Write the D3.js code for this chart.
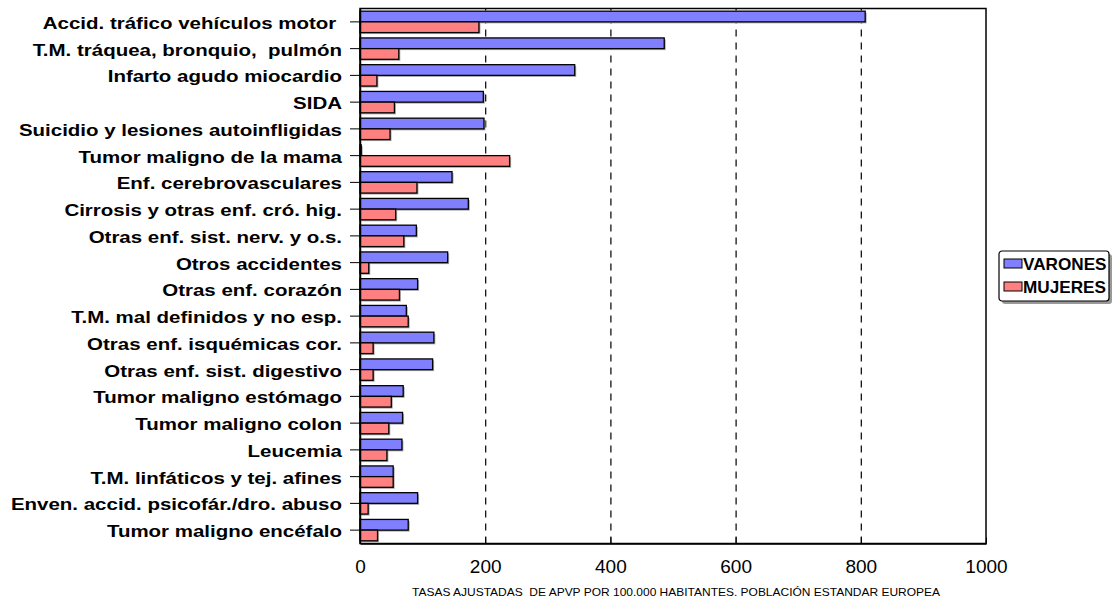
<!DOCTYPE html>
<html>
<head>
<meta charset="utf-8">
<script src="https://cdn.jsdelivr.net/npm/d3@7"></script>
<style>
  html, body { margin: 0; padding: 0; background: #fff; }
  svg { display: block; font-family: "Liberation Sans", Arial, sans-serif; }
  text { white-space: pre; }
</style>
</head>
<body>
<svg id="chart" width="1117" height="604"></svg>
<script>
const categories = [
  "Accid. tráfico vehículos motor ",
  "T.M. tráquea, bronquio,  pulmón",
  "Infarto agudo miocardio",
  "SIDA",
  "Suicidio y lesiones autoinfligidas",
  "Tumor maligno de la mama",
  "Enf. cerebrovasculares",
  "Cirrosis y otras enf. cró. hig.",
  "Otras enf. sist. nerv. y o.s.",
  "Otros accidentes",
  "Otras enf. corazón",
  "T.M. mal definidos y no esp.",
  "Otras enf. isquémicas cor.",
  "Otras enf. sist. digestivo",
  "Tumor maligno estómago",
  "Tumor maligno colon",
  "Leucemia",
  "T.M. linfáticos y tej. afines",
  "Enven. accid. psicofár./dro. abuso",
  "Tumor maligno encéfalo"
];
const varones = [807, 486, 343, 197, 198, 2, 147, 173, 90, 140, 92, 74, 118, 116, 69, 68, 67, 53, 92, 77];
const mujeres = [190, 62, 27, 55, 48, 239, 91, 57, 70, 14, 63, 77, 21, 21, 50, 46, 43, 53, 13, 28];
const seriesNames = ["VARONES", "MUJERES"];
const seriesColors = ["#8080FF", "#FF8080"];
const xTicks = [0, 200, 400, 600, 800, 1000];
const xTitle = "TASAS AJUSTADAS  DE APVP POR 100.000 HABITANTES. POBLACIÓN ESTANDAR EUROPEA";

const svg = d3.select("#chart");
const margin = { left: 360, top: 8.5, right: 131, bottom: 60.5 };
const W = 1117 - margin.left - margin.right;
const H = 604 - margin.top - margin.bottom;

const x = d3.scaleLinear().domain([0, 1000]).range([0, W]);
const y = d3.scaleBand().domain(categories).range([0, H]).paddingInner(0.2).paddingOuter(0.1);
const ySub = d3.scaleBand().domain(seriesNames).range([0, y.bandwidth()]);

const g = svg.append("g").attr("transform", `translate(${margin.left},${margin.top})`);

// gridlines
g.append("g").selectAll("line")
  .data(xTicks.filter(t => t > 0 && t < 1000))
  .join("line")
  .attr("x1", d => x(d) + 0.5).attr("x2", d => x(d) + 0.5)
  .attr("y1", H).attr("y2", 0)
  .attr("stroke", "#000").attr("stroke-width", 1.2)
  .attr("stroke-dasharray", "7,6");

// frame
g.append("rect").attr("x", 0).attr("y", 0).attr("width", W).attr("height", H)
  .attr("fill", "none").attr("stroke", "#000").attr("stroke-width", 1.5);

const data = categories.map((c, i) => ({ cat: c, vals: [varones[i], mujeres[i]] }));

const rows = g.append("g").selectAll("g")
  .data(data).join("g")
  .attr("transform", d => `translate(0,${y(d.cat)})`);

const bars = rows.selectAll("g.bar")
  .data(d => d.vals.map((v, k) => ({ v, k })))
  .join("g").attr("class", "bar");

// shadows
bars.append("rect")
  .attr("x", 1.5)
  .attr("y", d => ySub(seriesNames[d.k]) + 1.5)
  .attr("width", d => x(d.v))
  .attr("height", ySub.bandwidth())
  .attr("fill", "#aaa");

bars.append("rect")
  .attr("x", 0)
  .attr("y", d => ySub(seriesNames[d.k]))
  .attr("width", d => x(d.v))
  .attr("height", ySub.bandwidth())
  .attr("fill", d => seriesColors[d.k])
  .attr("stroke", "#000").attr("stroke-width", 1.3);

// left axis
const stretch = 1.22;
const yAxis = g.append("g").call(d3.axisLeft(y).tickSize(10).tickPadding(8).tickSizeOuter(0));
yAxis.select(".domain").attr("stroke", "#000").attr("stroke-width", 1.5);
yAxis.selectAll(".tick line").attr("stroke", "#000").attr("stroke-width", 1);
yAxis.selectAll(".tick text")
  .attr("font-size", 16.8).attr("font-weight", "bold").attr("fill", "#000")
  .attr("x", -18 / stretch).attr("dy", "0.42em")
  .attr("transform", `scale(${stretch},1)`);

// bottom axis
const xAxis = g.append("g").attr("transform", `translate(0,${H})`)
  .call(d3.axisBottom(x).tickValues(xTicks).tickFormat(d3.format("d")).tickSize(-6).tickSizeOuter(0));
xAxis.select(".domain").attr("stroke", "#000").attr("stroke-width", 1.5);
xAxis.selectAll(".tick line").attr("stroke", "#000");
xAxis.selectAll(".tick text")
  .attr("font-size", 19).attr("fill", "#000")
  .attr("y", 29.5).attr("dy", 0);

g.append("text")
  .attr("x", W / 2 + 3).attr("y", H + 52)
  .attr("text-anchor", "middle")
  .attr("font-size", 11).attr("fill", "#000")
  .attr("textLength", 528).attr("lengthAdjust", "spacingAndGlyphs")
  .text(xTitle);

// legend
const lg = svg.append("g").attr("transform", "translate(999,251)");
lg.append("rect").attr("x", 3).attr("y", 3).attr("width", 110).attr("height", 50)
  .attr("rx", 3).attr("fill", "#999");
lg.append("rect").attr("x", 0).attr("y", 0).attr("width", 110).attr("height", 50)
  .attr("rx", 3).attr("fill", "#fff").attr("stroke", "#000").attr("stroke-width", 1.2);
const li = lg.selectAll("g.item").data(seriesNames).join("g").attr("class", "item")
  .attr("transform", (d, i) => `translate(5,${8 + i * 23})`);
li.append("rect").attr("width", 18).attr("height", 9)
  .attr("fill", (d, i) => seriesColors[i]).attr("stroke", "#000").attr("stroke-width", 1);
li.append("text").attr("x", 19 / 1.04).attr("y", 11)
  .attr("transform", "scale(1.04,1)")
  .attr("font-size", 16.5).attr("font-weight", "bold").attr("fill", "#000")
  .text(d => d);
</script>
</body>
</html>
